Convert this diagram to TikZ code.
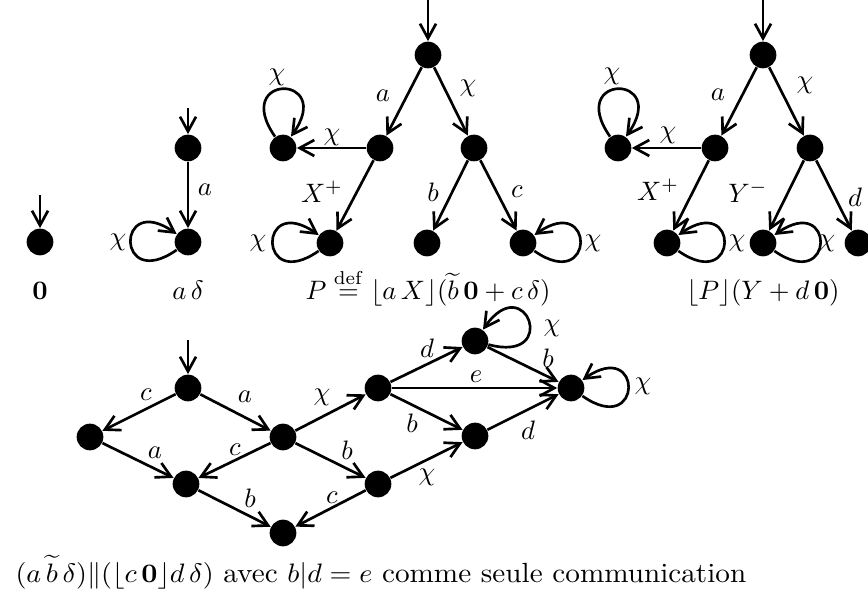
\documentclass[tikz,border=0pt]{standalone}
\usepackage{graphicx}
\usetikzlibrary{arrows.meta}
\begin{document}
\begin{tikzpicture}[x=0.375pt,y=0.375pt,
  every node/.style={font=\fontsize{10.4}{12.5}\selectfont},
  st/.style={circle,fill=black,inner sep=0pt,minimum size=10pt},
  lbl/.style={inner sep=0pt},
  captxt/.style={inner sep=0pt,anchor=base},
  tr/.style={line width=1pt,-{Straight Barb[length=5.5pt,width=6pt,line width=1pt]}},
  lloop/.style={out=215,in=145,out distance=28pt,in distance=28pt},
  rloop/.style={out=-35,in=35,out distance=28pt,in distance=28pt},
  uloop/.style={out=125,in=55,out distance=29pt,in distance=29pt},
  urloop/.style={out=-15,in=55,out distance=28pt,in distance=28pt}]
\useasboundingbox (0,0) rectangle (868,598);

% ---- 0
\node[st] (z0) at (40,356) {};
\coordinate (z0i) at (40,403);
\draw[tr] (z0i) -- (z0);
\node[captxt] (c0) at (40,298) {$\mathbf{0}$};

% ---- a delta
\node[st] (d1) at (188,450) {};
\node[st] (d2) at (188,356) {};
\coordinate (d1i) at (188,490);
\draw[tr] (d1i) -- (d1);
\draw[tr] (d1) -- (d2);
\draw[tr] (d2) to[lloop] (d2);
\node[lbl] at (205,408) {$a$};
\node[lbl] at (118,356) {$\chi$};
\node[captxt] (c1) at (188,298) {$a\,\delta$};

% ---- P
\node[st] (pT) at (428,543) {};
\node[st] (pL) at (380,450) {};
\node[st] (pR) at (474,450) {};
\node[st] (pFL) at (283,450) {};
\node[st] (pBL) at (330,355) {};
\node[st] (pBM) at (427,355) {};
\node[st] (pBR) at (523,355) {};
\coordinate (pTi) at (428,598);
\draw[tr] (pTi) -- (pT);
\draw[tr] (pT) -- (pL);
\draw[tr] (pT) -- (pR);
\draw[tr] (pL) -- (pFL);
\draw[tr] (pL) -- (pBL);
\draw[tr] (pR) -- (pBM);
\draw[tr] (pR) -- (pBR);
\draw[tr] (pFL) to[uloop] (pFL);
\draw[tr] (pBL) to[lloop] (pBL);
\draw[tr] (pBR) to[rloop] (pBR);
\node[lbl] at (383,502) {$a$};
\node[lbl] at (468,510) {$\chi$};
\node[lbl] at (277,521) {$\chi$};
\node[lbl] at (332,461) {$\chi$};
\node[lbl] at (322,406) {$X^+$};
\node[lbl] at (433,406) {$b$};
\node[lbl] at (517,406) {$c$};
\node[lbl] at (258,355) {$\chi$};
\node[lbl] at (593,355) {$\chi$};
\node[captxt] (c2) at (428,298) {$P \stackrel{\mathrm{def}}{=} \lfloor a\,X\rfloor(\widetilde{b}\,\mathbf{0} + c\,\delta)$};

% ---- floor P
\node[st] (qT) at (763,543) {};
\node[st] (qL) at (715,450) {};
\node[st] (qR) at (810,450) {};
\node[st] (qFL) at (618,450) {};
\node[st] (qBL) at (667,355) {};
\node[st] (qBM) at (763,355) {};
\node[st] (qBR) at (858,355) {};
\coordinate (qTi) at (763,598);
\draw[tr] (qTi) -- (qT);
\draw[tr] (qT) -- (qL);
\draw[tr] (qT) -- (qR);
\draw[tr] (qL) -- (qFL);
\draw[tr] (qL) -- (qBL);
\draw[tr] (qR) -- (qBM);
\draw[tr] (qR) -- (qBR);
\draw[tr] (qFL) to[uloop] (qFL);
\draw[tr] (qBL) to[rloop] (qBL);
\draw[tr] (qBM) to[rloop] (qBM);
\node[lbl] at (718,503) {$a$};
\node[lbl] at (805,513) {$\chi$};
\node[lbl] at (612,522) {$\chi$};
\node[lbl] at (668,463) {$\chi$};
\node[lbl] at (658,408) {$X^+$};
\node[lbl] at (748,406) {$Y^-$};
\node[lbl] at (855,401) {$d$};
\node[lbl] at (737,355) {$\chi$};
\node[lbl] at (827,355) {$\chi$};
\node[captxt] (c3) at (763,298) {$\lfloor P\rfloor(Y + d\,\mathbf{0})$};

% ---- product
\node[st] (n0) at (188,210) {};
\node[st] (nL) at (90,161) {};
\node[st] (nC) at (283,161) {};
\node[st] (nML) at (186,114) {};
\node[st] (nB) at (283,65) {};
\node[st] (nRB) at (378,114) {};
\node[st] (nRT) at (378,210) {};
\node[st] (nT) at (475,257) {};
\node[st] (nM) at (475,162) {};
\node[st] (nR) at (571,210) {};
\coordinate (n0i) at (188,258);
\draw[tr] (n0i) -- (n0);
\draw[tr] (n0) -- (nL);
\draw[tr] (n0) -- (nC);
\draw[tr] (nL) -- (nML);
\draw[tr] (nC) -- (nML);
\draw[tr] (nC) -- (nRT);
\draw[tr] (nC) -- (nRB);
\draw[tr] (nML) -- (nB);
\draw[tr] (nRB) -- (nB);
\draw[tr] (nRB) -- (nM);
\draw[tr] (nRT) -- (nT);
\draw[tr] (nRT) -- (nR);
\draw[tr] (nRT) -- (nM);
\draw[tr] (nT) -- (nR);
\draw[tr] (nM) -- (nR);
\draw[tr] (nT) to[urloop] (nT);
\draw[tr] (nR) to[rloop] (nR);
\node[lbl] at (146,203) {$c$};
\node[lbl] at (245,201) {$a$};
\node[lbl] at (322,201) {$\chi$};
\node[lbl] at (155,145) {$a$};
\node[lbl] at (235,148) {$c$};
\node[lbl] at (347,148) {$b$};
\node[lbl] at (250,100) {$b$};
\node[lbl] at (332,100) {$c$};
\node[lbl] at (427,121) {$\chi$};
\node[lbl] at (412,175) {$b$};
\node[lbl] at (476,221) {$e$};
\node[lbl] at (427,250) {$d$};
\node[lbl] at (548,240) {$b$};
\node[lbl] at (528,168) {$d$};
\node[lbl] at (552,270) {$\chi$};
\node[lbl] at (643,212) {$\chi$};
\node[inner sep=0pt,anchor=base west] (c4) at (15,16) {\resizebox{274pt}{\height}{$(a\,\widetilde{b}\,\delta)\|(\lfloor c\,\mathbf{0}\rfloor d\,\delta)$ avec $b|d = e$ comme seule communication}};
\end{tikzpicture}
\end{document}
